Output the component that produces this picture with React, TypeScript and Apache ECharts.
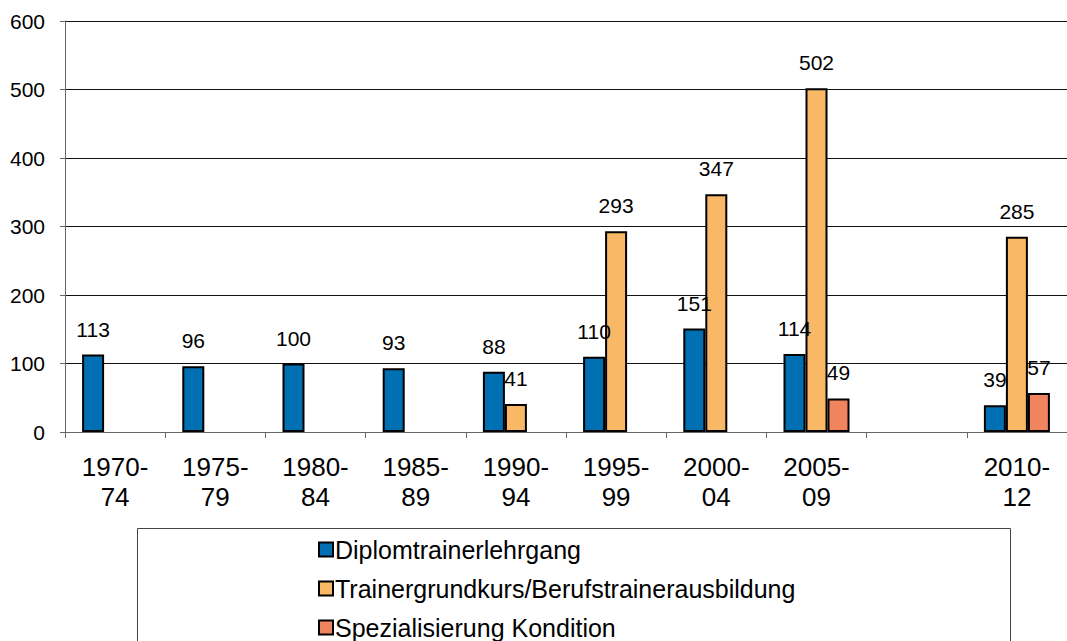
import React, { useEffect, useRef } from "react";
import * as echarts from "echarts";

const categories = ["1970-\n74", "1975-\n79", "1980-\n84", "1985-\n89", "1990-\n94", "1995-\n99", "2000-\n04", "2005-\n09", "", "2010-\n12"];
const seriesNames = ["Diplomtrainerlehrgang", "Trainergrundkurs/Berufstrainerausbildung", "Spezialisierung Kondition"];
const diplom = [113, 96, 100, 93, 88, 110, 151, 114, null, 39];
const grundkurs = [null, null, null, null, 41, 293, 347, 502, null, 285];
const kondition = [null, null, null, null, null, null, null, 49, null, 57];
const yTicks = [0, 100, 200, 300, 400, 500, 600];
const colors = ["#0070b3", "#f8b866", "#ef845f"];

const FONT = "'Liberation Sans', Arial, sans-serif";

export default function App() {
  const ref = useRef<HTMLDivElement>(null);
  useEffect(() => {
    if (!ref.current) return;
    const chart = echarts.init(ref.current, null, { renderer: "svg" });
    const mk = (name: string, data: (number | null)[], color: string) => ({
      name,
      type: "bar",
      data,
      barWidth: 22,
      barGap: "0%",
      itemStyle: { color, borderColor: "#000", borderWidth: 2 },
      label: {
        show: true,
        position: "top",
        distance: 15,
        color: "#000",
        fontSize: 21,
        fontFamily: FONT,
      },
    });
    chart.setOption({
      animation: false,
      textStyle: { fontFamily: FONT },
      grid: { left: 65, top: 21, width: 1010, bottom: 209, containLabel: false },
      xAxis: {
        type: "category",
        data: categories,
        axisLine: { lineStyle: { color: "#666", width: 1 } },
        axisTick: { show: true, alignWithLabel: false, length: 6, lineStyle: { color: "#666" } },
        axisLabel: { color: "#000", fontSize: 26, lineHeight: 30, margin: 20, fontFamily: FONT, interval: 0 },
      },
      yAxis: {
        type: "value",
        min: yTicks[0],
        max: yTicks[yTicks.length - 1],
        interval: 100,
        axisLine: { show: true, lineStyle: { color: "#666", width: 1 } },
        axisTick: { show: true, length: 5, lineStyle: { color: "#666" } },
        axisLabel: { color: "#000", fontSize: 21, margin: 20, fontFamily: FONT },
        splitLine: { show: true, lineStyle: { color: "#111", width: 1 } },
      },
      legend: {
        orient: "vertical",
        left: 318,
        top: 537,
        height: 200,
        itemWidth: 14,
        itemHeight: 14,
        itemGap: 14,
        icon: "rect",
        padding: 0,
        itemStyle: { borderColor: "#000", borderWidth: 2 },
        textStyle: { color: "#000", fontSize: 25, lineHeight: 25, fontFamily: FONT, padding: [0, 0, 0, -3] },
        data: seriesNames,
      },
      graphic: [
        {
          type: "rect",
          shape: { x: 137.5, y: 528.5, width: 873, height: 200 },
          style: { fill: "none", stroke: "#444", lineWidth: 1 },
          silent: true,
        },
      ],
      series: [mk(seriesNames[0], diplom, colors[0]), mk(seriesNames[1], grundkurs, colors[1]), mk(seriesNames[2], kondition, colors[2])],
    });
    return () => chart.dispose();
  }, []);
  return <div ref={ref} style={{ position: "absolute", left: 0, top: 0, width: 1067, height: 641, background: "#fff" }} />;
}
